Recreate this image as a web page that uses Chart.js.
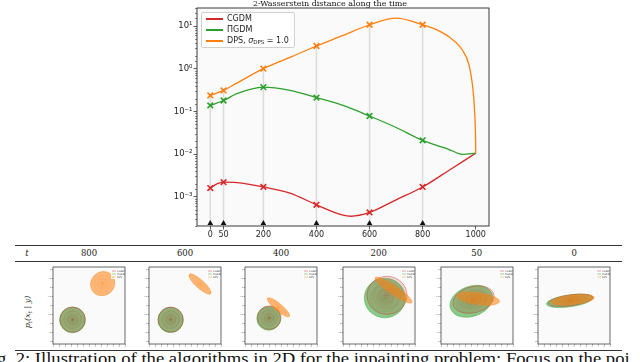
<!DOCTYPE html>
<html>
<head>
<meta charset="utf-8">
<script src="https://cdn.jsdelivr.net/npm/chart.js@4.4.1/dist/chart.umd.min.js"></script>
<style>
  body { margin: 0; width: 640px; height: 362px; overflow: hidden; background: #fff; position: relative; }
  canvas { position: absolute; }
  #title { position: absolute; left: 230px; width: 200px; top: -1px; text-align: center;
           font: 8px "DejaVu Serif", serif; color: #111; white-space: nowrap; }
  #legend { position: absolute; left: 201px; top: 12px; width: 92px; height: 34px;
            border: 1px solid #d0d0d0; border-radius: 2px; background: rgba(255,255,255,0.85);
            font: 8px "DejaVu Sans", sans-serif; color: #222; }
  .item { position: absolute; left: 4px; height: 10px; white-space: nowrap; }
  .item span.swatch { position: absolute; left: 0; top: 4px; width: 17px; height: 1.5px; }
  .item span.txt { position: absolute; left: 21px; top: 0; line-height: 10px; }
  .item sub { font-size: 5.5px; vertical-align: -1px; }
  .rule { position: absolute; left: 15px; width: 607px; background: #333; }
  .hdr { position: absolute; top: 248px; width: 40px; margin-left: -20px; text-align: center;
         font: 8.5px "DejaVu Serif", serif; color: #222; }
  #ylab { position: absolute; left: 28px; top: 312px; transform: translate(-50%, -50%) rotate(-90deg);
          font: italic 8px "DejaVu Serif", serif; color: #222; white-space: nowrap; }
  #cap { position: absolute; left: -3px; top: 350px; font: 16px "Liberation Serif", serif; color: #111;
         white-space: nowrap; transform: scaleX(1.165); transform-origin: 0 0; }
</style>
</head>
<body>
<canvas id="main" width="640" height="245" style="left:0;top:0"></canvas>
<div id="title">2-Wasserstein distance along the time</div>
<div id="legend">
  <div class="item" style="top:1px"><span class="swatch" style="background:#d62728"></span><span class="txt">CGDM</span></div>
  <div class="item" style="top:12px"><span class="swatch" style="background:#2ca02c"></span><span class="txt">ΠGDM</span></div>
  <div class="item" style="top:23px"><span class="swatch" style="background:#ff7f0e"></span><span class="txt">DPS, <i>σ</i><sub>DPS</sub> = 1.0</span></div>
</div>
<div class="rule" style="top:244.5px;height:1.2px"></div>
<div class="rule" style="top:260.8px;height:0.7px"></div>
<div class="rule" style="top:349.5px;height:1.2px"></div>
<div id="hdrs"></div>
<div id="ylab">p<sub style="font-size:5.5px">t</sub>(x<sub style="font-size:5.5px">t</sub> | y)</div>
<div id="cap">g. 2: Illustration of the algorithms in 2D for the inpainting problem: Focus on the poi</div>
<script>
// ---- main chart data ----
const X_TICKS = [0, 50, 200, 400, 600, 800, 1000];
const MARK_T = [0, 50, 200, 400, 600, 800];
const Y_POWERS = [-3, -2, -1, 0, 1];
const Y_TICK_LABELS = ["10⁻³", "10⁻²", "10⁻¹", "10⁰", "10¹"];
const ARROW_LEVEL = 2.38e-4;

const CGDM_T = [0, 25, 50, 100, 200, 300, 400, 500, 530, 600, 700, 800, 900, 1000];
const CGDM_V = [0.0016, 0.002, 0.0022, 0.00215, 0.0017, 0.00122, 0.00065, 0.00037, 0.00035, 0.00043, 0.00085, 0.0017, 0.0042, 0.0105];
const CGDM_MARKS = [0.0016, 0.0022, 0.0017, 0.00065, 0.00043, 0.0017];

const PIGDM_T = [0, 50, 100, 200, 300, 400, 500, 600, 700, 800, 850, 900, 950, 1000];
const PIGDM_V = [0.138, 0.18, 0.26, 0.37, 0.31, 0.21, 0.138, 0.078, 0.042, 0.021, 0.0163, 0.0128, 0.0099, 0.0105];
const PIGDM_MARKS = [0.138, 0.18, 0.37, 0.21, 0.078, 0.021];

const DPS_T = [0, 50, 100, 200, 300, 400, 500, 600, 700, 800, 850, 900, 950, 975, 990, 995, 999, 1000];
const DPS_V = [0.237, 0.31, 0.46, 1.0, 1.84, 3.4, 6.0, 10.7, 15.3, 10.7, 8.3, 5.5, 2.7, 1.2, 0.31, 0.12, 0.03, 0.0105];
const DPS_MARKS = [0.237, 0.31, 1.0, 3.4, 10.7, 10.7];

// ---- lower row: Gaussian ellipses per panel [cx, cy, a, b, angleDeg] ----
const PANEL_T = ["800", "600", "400", "200", "50", "0"];
const CGDM_ELL = [
  [-2.72, -2.35, 2.1, 2.1, 0], [-2.38, -2.35, 2.08, 2.08, 0], [-1.95, -2.02, 1.95, 1.95, 0],
  [1.33, 1.7, 3.33, 3.17, 0], [-0.57, 0.98, 3.5, 2.17, 15], [-0.55, 0.87, 3.7, 0.9, 8]
];
const PIGDM_ELL = [
  [-2.75, -2.4, 2.15, 2.15, 0], [-2.4, -2.4, 2.12, 2.12, 0], [-2.05, -2.15, 1.98, 1.98, 0],
  [0.97, 1.25, 3.42, 3.3, 0], [-0.95, 0.7, 3.67, 2.5, 20], [-0.72, 0.78, 3.9, 1.0, 8]
];
const DPS_ELL = [
  [2.28, 3.65, 2.1, 1.95, 45], [2.5, 3.58, 2.4, 0.7, -42], [-0.42, -0.3, 2.38, 0.62, -40],
  [2.43, 2.57, 3.7, 0.75, -34], [0.17, 1.15, 3.6, 1.0, -8], [-0.22, 0.95, 3.6, 0.8, 6]
];
const PANEL_LEFT = [53, 149, 245, 342.7, 440.7, 538.3];
const PANEL_X_TICKS = [-6, -5, -4, -3, -2, -1, 0, 1, 2, 3, 4, 5, 6];
const PANEL_Y_TICKS = [-6, -4.5, -3, -1.5, 0, 1.5, 3, 4.5, 6];

const RED = "#d62728", GREEN = "#2ca02c", ORANGE = "#ff7f0e";

function pts(ts, vs) {
  return ts.map((t, i) => ({ x: t, y: vs[i] }));
}

function isPower(v) {
  const e = Math.round(Math.log10(v));
  return Math.abs(v / Math.pow(10, e) - 1) < 1e-6 ? e : null;
}

const framePlugin = {
  id: "frame",
  beforeDraw(chart) {
    const { ctx, chartArea: a } = chart;
    ctx.save();
    ctx.fillStyle = "#fafafa";
    ctx.fillRect(a.left, a.top, a.right - a.left, a.bottom - a.top);
    ctx.restore();
  },
  beforeDatasetsDraw(chart) {
    const { ctx, chartArea: a, scales } = chart;
    ctx.save();
    ctx.strokeStyle = "#dcdcdc";
    ctx.lineWidth = 1.5;
    MARK_T.forEach((t, i) => {
      const x = scales.x.getPixelForValue(t);
      ctx.beginPath();
      ctx.moveTo(x, a.bottom);
      ctx.lineTo(x, scales.y.getPixelForValue(DPS_MARKS[i]));
      ctx.stroke();
    });
    ctx.restore();
  },
  afterDraw(chart) {
    const { ctx, chartArea: a, scales } = chart;
    ctx.save();
    ctx.strokeStyle = "#3a3a3a";
    ctx.lineWidth = 1;
    ctx.strokeRect(a.left, a.top, a.right - a.left, a.bottom - a.top);
    // minor ticks on the log axis
    ctx.lineWidth = 0.6;
    scales.y.ticks.forEach((tk) => {
      if (isPower(tk.value) !== null) return;
      const y = Math.round(scales.y.getPixelForValue(tk.value)) + 0.5;
      ctx.beginPath();
      ctx.moveTo(a.left - 2, y);
      ctx.lineTo(a.left, y);
      ctx.stroke();
    });
    ctx.restore();
  },
};

new Chart(document.getElementById("main"), {
  type: "scatter",
  data: {
    datasets: [
      { data: pts(CGDM_T, CGDM_V), showLine: true, borderColor: RED, borderWidth: 1.3, pointRadius: 0, cubicInterpolationMode: "monotone", order: 6 },
      { data: pts(PIGDM_T, PIGDM_V), showLine: true, borderColor: GREEN, borderWidth: 1.3, pointRadius: 0, cubicInterpolationMode: "monotone", order: 5 },
      { data: pts(DPS_T, DPS_V), showLine: true, borderColor: ORANGE, borderWidth: 1.3, pointRadius: 0, cubicInterpolationMode: "monotone", order: 4 },
      { data: pts(MARK_T, CGDM_MARKS), pointStyle: "crossRot", pointRadius: 4, borderColor: RED, borderWidth: 1.6, order: 3 },
      { data: pts(MARK_T, PIGDM_MARKS), pointStyle: "crossRot", pointRadius: 4, borderColor: GREEN, borderWidth: 1.6, order: 2 },
      { data: pts(MARK_T, DPS_MARKS), pointStyle: "crossRot", pointRadius: 4, borderColor: ORANGE, borderWidth: 1.6, order: 1 },
      { data: MARK_T.map((t) => ({ x: t, y: ARROW_LEVEL })), pointStyle: "triangle", pointRadius: 3.3, backgroundColor: "#111", borderColor: "#111", borderWidth: 0, order: 0, clip: false },
    ],
  },
  options: {
    responsive: false,
    devicePixelRatio: 1,
    animation: false,
    layout: { padding: { left: 157, top: 8, right: 151, bottom: 0 } },
    plugins: { legend: { display: false }, tooltip: { enabled: false } },
    scales: {
      x: {
        type: "linear", min: -50, max: 1050,
        afterBuildTicks: (s) => { s.ticks = X_TICKS.map((v) => ({ value: v })); },
        afterFit: (s) => { s.height = 19; },
        border: { display: false },
        grid: { drawOnChartArea: false, tickLength: 3.5, tickColor: "#333", tickWidth: 0.8 },
        ticks: { autoSkip: false, maxRotation: 0, padding: 1, color: "#222", font: { family: "DejaVu Sans", size: 8 },
                 callback: (v) => String(v) },
      },
      y: {
        type: "logarithmic", min: 2.07e-4, max: 26.4,
        afterFit: (s) => { s.width = 40; },
        border: { display: false },
        grid: {
          drawOnChartArea: false, tickLength: 3.5, tickWidth: 0.8,
          tickColor: (c) => (c.tick && isPower(c.tick.value) !== null ? "#333" : "rgba(0,0,0,0)"),
        },
        ticks: {
          autoSkip: false, padding: 1, color: "#222", font: { family: "DejaVu Sans", size: 8.5 },
          callback: (v) => {
            const e = isPower(v);
            const k = Y_POWERS.indexOf(e);
            return k >= 0 ? Y_TICK_LABELS[k] : "";
          },
        },
      },
    },
  },
  plugins: [framePlugin],
});

// ---- header row ----
const hdrs = document.getElementById("hdrs");
const tLab = document.createElement("div");
tLab.className = "hdr";
tLab.style.left = "27px";
tLab.innerHTML = "<i>t</i>";
hdrs.appendChild(tLab);
PANEL_T.forEach((t, i) => {
  const d = document.createElement("div");
  d.className = "hdr";
  d.style.left = PANEL_LEFT[i] + 36 + "px";
  d.textContent = t;
  hdrs.appendChild(d);
});

// ---- lower row panels ----
function drawGauss(ctx, xs, ys, e, rgb, fillAlpha) {
  const [cx, cy, a, b, ang] = e;
  const px = xs.getPixelForValue(cx), py = ys.getPixelForValue(cy);
  const unit = xs.getPixelForValue(1) - xs.getPixelForValue(0);
  const rot = (-ang * Math.PI) / 180;
  ctx.save();
  [1, 0.7, 0.4, 0.15].forEach((s, k) => {
    ctx.beginPath();
    ctx.ellipse(px, py, a * unit * s, b * unit * s, rot, 0, Math.PI * 2);
    ctx.fillStyle = `rgba(${rgb},${k === 0 ? fillAlpha : 0.03})`;
    ctx.fill();
    ctx.lineWidth = k === 0 ? 0.7 : 0.35;
    ctx.strokeStyle = `rgba(${rgb},${k === 0 ? 0.6 : 0.3})`;
    ctx.stroke();
  });
  ctx.beginPath();
  ctx.arc(px, py, 0.5, 0, Math.PI * 2);
  ctx.fillStyle = `rgb(${rgb})`;
  ctx.fill();
  ctx.restore();
}

const LEG_NAMES = ["CGDM", "ΠGDM", "DPS"];
const LEG_COLORS = [RED, GREEN, ORANGE];

const ellipsePlugin = {
  id: "ellipses",
  beforeDraw(chart) {
    const { ctx, chartArea: a } = chart;
    ctx.save();
    ctx.fillStyle = "#fafafa";
    ctx.fillRect(a.left, a.top, a.right - a.left, a.bottom - a.top);
    ctx.restore();
  },
  afterDatasetsDraw(chart) {
    const { ctx, chartArea: a, scales } = chart;
    const i = chart.options.panelIndex;
    ctx.save();
    ctx.beginPath();
    ctx.rect(a.left, a.top, a.right - a.left, a.bottom - a.top);
    ctx.clip();
    drawGauss(ctx, scales.x, scales.y, PIGDM_ELL[i], "44,160,44", 0.55);
    drawGauss(ctx, scales.x, scales.y, CGDM_ELL[i], "214,39,40", 0.17);
    drawGauss(ctx, scales.x, scales.y, DPS_ELL[i], "255,127,14", 0.55);
    ctx.restore();
    // tiny legend
    ctx.save();
    const lx = a.right - 13, ly = a.top + 2;
    ctx.fillStyle = "rgba(255,255,255,0.8)";
    ctx.fillRect(lx - 1, ly, 12, 10);
    ctx.font = "2.5px DejaVu Sans";
    ctx.textBaseline = "middle";
    LEG_NAMES.forEach((n, k) => {
      const y = ly + 2 + k * 3;
      ctx.strokeStyle = LEG_COLORS[k];
      ctx.globalAlpha = 0.6;
      ctx.lineWidth = 0.8;
      ctx.beginPath();
      ctx.moveTo(lx, y);
      ctx.lineTo(lx + 4, y);
      ctx.stroke();
      ctx.globalAlpha = 1;
      ctx.fillStyle = "#444";
      ctx.fillText(n, lx + 5, y);
    });
    ctx.restore();
    ctx.save();
    ctx.strokeStyle = "#444";
    ctx.lineWidth = 0.8;
    ctx.strokeRect(a.left, a.top, a.right - a.left, a.bottom - a.top);
    ctx.restore();
  },
};

PANEL_LEFT.forEach((L, i) => {
  const cv = document.createElement("canvas");
  cv.width = 84;
  cv.height = 88;
  cv.style.left = L - 8 + "px";
  cv.style.top = "262px";
  document.body.appendChild(cv);
  new Chart(cv, {
    type: "scatter",
    data: { datasets: [] },
    options: {
      panelIndex: i,
      responsive: false,
      devicePixelRatio: 1,
      animation: false,
      layout: { padding: { left: 0, top: 5, right: 4, bottom: 0 } },
      plugins: { legend: { display: false }, tooltip: { enabled: false } },
      scales: {
        x: {
          type: "linear", min: -6, max: 6,
          afterBuildTicks: (s) => { s.ticks = PANEL_X_TICKS.map((v) => ({ value: v })); },
          afterFit: (s) => { s.height = 6; },
          border: { display: false },
          grid: { drawOnChartArea: false, tickLength: 1.5, tickColor: "#444", tickWidth: 0.5 },
          ticks: { autoSkip: false, maxRotation: 0, padding: 0, color: "#666", font: { size: 2 } },
        },
        y: {
          type: "linear", min: -6.42, max: 6.42,
          afterBuildTicks: (s) => { s.ticks = PANEL_Y_TICKS.map((v) => ({ value: v })); },
          afterFit: (s) => { s.width = 8; },
          border: { display: false },
          grid: { drawOnChartArea: false, tickLength: 1.5, tickColor: "#444", tickWidth: 0.5 },
          ticks: { autoSkip: false, padding: 0.5, color: "#666", font: { size: 2 } },
        },
      },
    },
    plugins: [ellipsePlugin],
  });
});
</script>
</body>
</html>
